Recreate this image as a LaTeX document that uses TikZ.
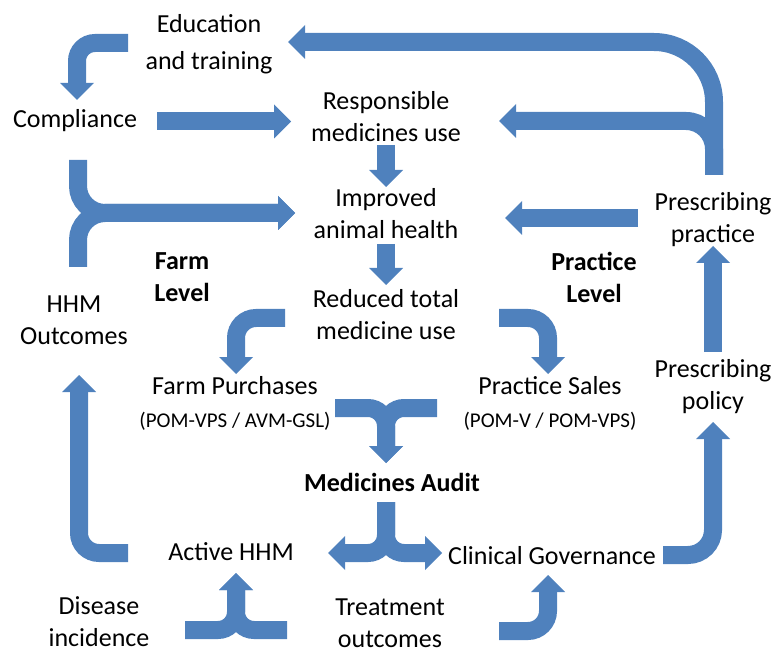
\documentclass[tikz,border=0pt]{standalone}
\usepackage{fontspec}
\setmainfont{Carlito}
\usetikzlibrary{arrows.meta}
\definecolor{barblue}{RGB}{79,129,189}
\tikzset{
  band/.style={draw=barblue, line width=18pt,
    -{Triangle[length=17pt,width=34pt,line width=0pt]}},
  lbl/.style={align=center, inner sep=0pt, font=\fontsize{26}{32}\selectfont},
  sublbl/.style={inner sep=0pt, font=\fontsize{21}{24}\selectfont},
  lvl/.style={align=center, inner sep=0pt, font=\fontsize{26}{32}\selectfont\bfseries},
}
\begin{document}
\begin{tikzpicture}[x=1pt,y=-1pt]
	\useasboundingbox (0,0) rectangle (777,655);

	% farm side
	\node[lbl,font=\fontsize{26}{37}\selectfont] (edu) at (209,44) {Education\\and training};
	\node[lbl] (comp) at (75,121) {Compliance};
	\node[lbl] (hhmo) at (74,320) {HHM\\Outcomes};
	\node[lvl] (farmlvl) at (182,277) {Farm\\Level};
	\node[lbl] (fpur) at (235,386) {Farm Purchases};
	\node[sublbl] (fpursub) at (235,421) {(POM-VPS / AVM-GSL)};
	\node[lbl] (ahhm) at (231,552) {Active HHM};
	\node[lbl] (dis) at (99,622) {Disease\\incidence};

	% middle
	\node[lbl] (resp) at (386,117) {Responsible\\medicines use};
	\node[lbl] (impr) at (386,214) {Improved\\animal health};
	\node[lbl] (redu) at (386,315) {Reduced total\\medicine use};
	\node[lvl] (audit) at (392,482) {Medicines Audit};
	\node[lbl] (treat) at (390,623) {Treatment\\outcomes};

	% practice side
	\node[lbl] (prpr) at (713,220) {Prescribing\\practice};
	\node[lvl] (praclvl) at (594,277) {Practice\\Level};
	\node[lbl] (psal) at (550,386) {Practice Sales};
	\node[sublbl] (psalsub) at (550,421) {(POM-V / POM-VPS)};
	\node[lbl] (prpo) at (713,387) {Prescribing\\policy};
	\node[lbl] (cgov) at (552,556) {Clinical Governance};

	% band ends
	\coordinate (edu-w) at (128,43);   \coordinate (comp-n) at (77,100);
	\coordinate (comp-e) at (157,121.5); \coordinate (resp-w) at (291,121.5);
	\coordinate (comp-s) at (78,160);  \coordinate (hhmo-n) at (78,267);
	\coordinate (impr-w) at (295,213);
	\coordinate (resp-s) at (386,145); \coordinate (impr-n) at (386,187);
	\coordinate (impr-s) at (386,244); \coordinate (redu-n) at (386,285);
	\coordinate (prpr-n) at (714,175); \coordinate (edu-e) at (288,42);
	\coordinate (resp-e) at (499,121); \coordinate (prpr-w) at (638,218);
	\coordinate (impr-e) at (505,218);
	\coordinate (redu-w) at (285,318); \coordinate (fpur-n) at (236,374);
	\coordinate (redu-e) at (499,318); \coordinate (psal-n) at (548,374);
	\coordinate (fpur-e) at (335,408); \coordinate (psal-w) at (437,408);
	\coordinate (audit-n) at (386,463); \coordinate (audit-s) at (386,502);
	\coordinate (ahhm-e) at (328,553); \coordinate (cgov-w) at (442,553);
	\coordinate (ahhm-w) at (128,553); \coordinate (hhmo-s) at (79,375);
	\coordinate (dis-e) at (185,630);  \coordinate (treat-w) at (287,630);
	\coordinate (ahhm-s) at (236,573);
	\coordinate (treat-e) at (499,631); \coordinate (cgov-s) at (548,575);
	\coordinate (cgov-e) at (663,555); \coordinate (prpo-s) at (713,422);
	\coordinate (prpo-n) at (713,352); \coordinate (prpr-s) at (713,246);

	% bands
	\draw[band,rounded corners=18] (edu-w) -| (comp-n);
	\draw[band] (comp-e) -- (resp-w);
	\draw[band,rounded corners=27] (comp-s) |- (impr-w);
	\draw[band,rounded corners=27] (hhmo-n) |- (impr-w);
	\draw[band] (resp-s) -- (impr-n);
	\draw[band] (impr-s) -- (redu-n);
	\draw[band,rounded corners=60] (prpr-n) |- (edu-e);
	\draw[band,rounded corners=28] (prpr-n) |- (resp-e);
	\draw[band] (prpr-w) -- (impr-e);
	\draw[band,rounded corners=20] (redu-w) -| (fpur-n);
	\draw[band,rounded corners=20] (redu-e) -| (psal-n);
	\draw[band,rounded corners=18] (fpur-e) -| (audit-n);
	\draw[band,rounded corners=18] (psal-w) -| (audit-n);
	\draw[band,rounded corners=18] (audit-s) |- (ahhm-e);
	\draw[band,rounded corners=18] (audit-s) |- (cgov-w);
	\draw[band,rounded corners=20] (ahhm-w) -| (hhmo-s);
	\draw[band,rounded corners=18] (dis-e) -| (ahhm-s);
	\draw[band,rounded corners=18] (treat-w) -| (ahhm-s);
	\draw[band,rounded corners=20] (treat-e) -| (cgov-s);
	\draw[band,rounded corners=25] (cgov-e) -| (prpo-s);
	\draw[band] (prpo-n) -- (prpr-s);
\end{tikzpicture}
\end{document}
